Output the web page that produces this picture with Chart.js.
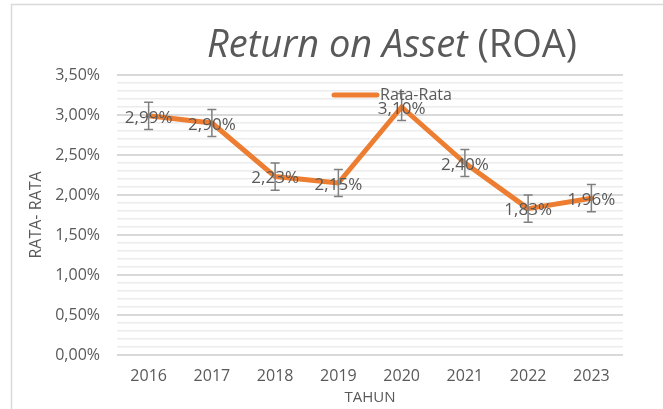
<!DOCTYPE html>
<html>
<head>
<meta charset="utf-8">
<script src="https://cdn.jsdelivr.net/npm/chart.js@4/dist/chart.umd.min.js"></script>
<style>
    html, body { margin: 0; padding: 0; background: #fff; }
    #wrap { position: relative; width: 663px; height: 409px; }
</style>
</head>
<body>
<div id="wrap"><canvas id="roaChart" width="663" height="409"></canvas></div>
<script>
const years      = ['2016', '2017', '2018', '2019', '2020', '2021', '2022', '2023'];
const roaValues  = [2.99, 2.90, 2.23, 2.15, 3.10, 2.40, 1.83, 1.96];
const roaErrors  = [0.17, 0.17, 0.17, 0.17, 0.17, 0.17, 0.17, 0.17];
const seriesName = 'Rata-Rata';

const TEXT_GREY = '#595959';
const FONT = '"Open Sans", "Liberation Sans", sans-serif';

const fmtPct = v => v.toFixed(2).replace('.', ',') + '%';

/* ── frame, title, legend, error bars, labels ─────────────────────── */

const decorPlugin = {
    id: 'decor',
    beforeDraw(chart) {
        const ctx = chart.ctx;
        ctx.save();
        ctx.strokeStyle = '#d9d9d9';
        ctx.lineWidth = 1.5;
        ctx.beginPath();
        ctx.moveTo(11.5, 409);
        ctx.lineTo(11.5, 4.5);
        ctx.lineTo(663, 4.5);
        ctx.stroke();
        ctx.restore();
    },
    afterDatasetsDraw(chart) {
        const ctx = chart.ctx;
        const y = chart.scales.y;
        const meta = chart.getDatasetMeta(0);

        // error bars
        ctx.save();
        ctx.strokeStyle = '#7f7f7f';
        ctx.lineWidth = 1.5;
        meta.data.forEach((pt, i) => {
            const top = y.getPixelForValue(roaValues[i] + roaErrors[i]);
            const bot = y.getPixelForValue(roaValues[i] - roaErrors[i]);
            ctx.beginPath();
            ctx.moveTo(pt.x, top); ctx.lineTo(pt.x, bot);
            ctx.moveTo(pt.x - 4.5, top); ctx.lineTo(pt.x + 4.5, top);
            ctx.moveTo(pt.x - 4.5, bot); ctx.lineTo(pt.x + 4.5, bot);
            ctx.stroke();
        });
        ctx.restore();

        // data labels
        ctx.save();
        ctx.fillStyle = TEXT_GREY;
        ctx.font = '17px ' + FONT;
        ctx.textAlign = 'center';
        ctx.textBaseline = 'middle';
        meta.data.forEach((pt, i) => {
            ctx.fillText(fmtPct(roaValues[i]), pt.x, pt.y + 2);
        });
        ctx.restore();
    },
    afterDraw(chart) {
        const ctx = chart.ctx;

        // title: italic part + normal part
        ctx.save();
        ctx.fillStyle = TEXT_GREY;
        ctx.textBaseline = 'alphabetic';
        const partA = 'Return on Asset';
        const partB = ' (ROA)';
        const fA = 'italic 38px ' + FONT;
        const fB = '38px ' + FONT;
        ctx.font = fA; const wA = ctx.measureText(partA).width;
        ctx.font = fB; const wB = ctx.measureText(partB).width;
        const x = 392 - (wA + wB) / 2;
        ctx.font = fA; ctx.fillText(partA, x, 57);
        ctx.font = fB; ctx.fillText(partB, x + wA, 57);
        ctx.restore();

        // legend inside plot
        ctx.save();
        ctx.strokeStyle = '#ED7D31';
        ctx.lineWidth = 5;
        ctx.lineCap = 'round';
        ctx.beginPath();
        ctx.moveTo(334, 95); ctx.lineTo(377, 95);
        ctx.stroke();
        ctx.fillStyle = TEXT_GREY;
        ctx.font = '16px ' + FONT;
        ctx.textBaseline = 'middle';
        ctx.fillText(seriesName, 380, 95);
        ctx.restore();
    }
};

new Chart(document.getElementById('roaChart'), {
    type: 'line',
    data: {
        labels: years,
        datasets: [{
            label: seriesName,
            data: roaValues,
            borderColor: '#ED7D31',
            borderWidth: 5,
            pointRadius: 0,
            tension: 0,
            borderJoinStyle: 'round',
            borderCapStyle: 'round'
        }]
    },
    options: {
        responsive: false,
        animation: false,
        layout: { padding: { top: 75, right: 40, bottom: 0, left: 0 } },
        plugins: {
            legend: { display: false },
            tooltip: { enabled: false }
        },
        scales: {
            x: {
                offset: true,
                grid: { display: false, drawTicks: false },
                border: { display: false },
                ticks: { color: TEXT_GREY, font: { family: FONT, size: 16 }, padding: 12 },
                title: {
                    display: true, text: 'TAHUN', color: TEXT_GREY,
                    font: { family: FONT, size: 15 }, padding: { top: 0, bottom: 2 }
                },
                afterFit(axis) { axis.height = 409 - 355; }
            },
            y: {
                min: 0,
                max: 3.5,
                grid: {
                    drawTicks: false,
                    color: c => Math.abs(c.tick.value * 2 - Math.round(c.tick.value * 2)) < 1e-6 ? '#d9d9d9' : '#ececec',
                    lineWidth: c => Math.abs(c.tick.value * 2 - Math.round(c.tick.value * 2)) < 1e-6 ? 2 : 1.5
                },
                border: { display: false },
                ticks: {
                    stepSize: 0.1,
                    autoSkip: false,
                    padding: 17,
                    color: TEXT_GREY,
                    font: { family: FONT, size: 16 },
                    callback: v => Math.abs(v * 2 - Math.round(v * 2)) < 1e-6 ? fmtPct(v) : ''
                },
                title: {
                    display: true, text: 'RATA- RATA', color: TEXT_GREY,
                    font: { family: FONT, size: 16 }, padding: { top: 27, bottom: 0 }
                },
                afterFit(axis) { axis.width = 117; }
            }
        }
    },
    plugins: [decorPlugin]
});
</script>
</body>
</html>
